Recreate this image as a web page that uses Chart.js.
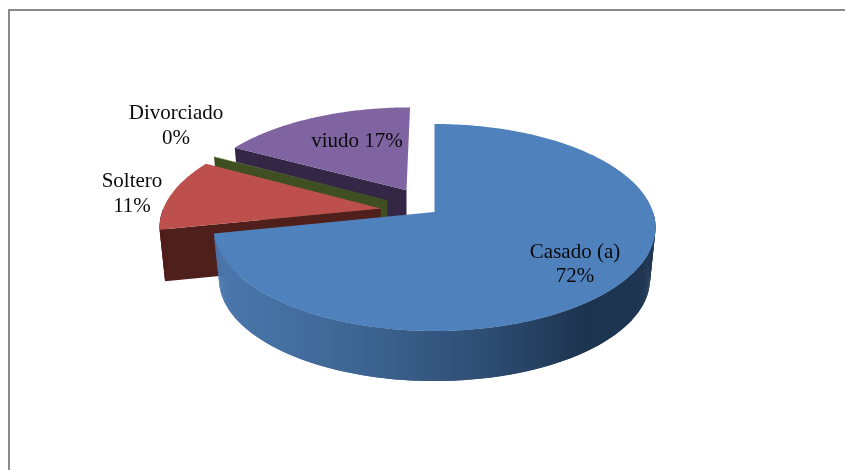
<!DOCTYPE html>
<html>
<head>
<meta charset="utf-8">
<title>Estado civil</title>
<script src="https://cdn.jsdelivr.net/npm/chart.js@4"></script>
<style>
    html, body { margin: 0; padding: 0; background: #fff; overflow: hidden; }
    #moldura { position: absolute; left: 8px; top: 9px; width: 837px; height: 461px; border-left: 2px solid #8a8a8a; border-top: 2px solid #8a8a8a; }
    #graficoPizza { position: absolute; left: 0; top: 0; }
</style>
</head>
<body>
<div id="moldura"></div>
<canvas id="graficoPizza" width="845" height="470"></canvas>
<script>
// Dados
const categorias = ['Casado (a)', 'Soltero', 'Divorciado', 'viudo'];
const valores = [71.7, 11.2, 0.05, 17.05];
const percentuais = ['72%', '11%', '0%', '17%'];

// Estilo das fatias
const coresTopo = ['#4f81bd', '#bd504c', '#9bbb59', '#8064a2'];
const coresLateral = ['#1d3450', '#4f1f1c', '#3f4f22', '#332745'];
const explosao = [0, 52, 52, 54];

// Posição dos rótulos (cada item é uma linha de texto)
const rotulos = [
    { linhas: [categorias[0], percentuais[0]], x: 575, y: 252 },
    { linhas: [categorias[1], percentuais[1]], x: 132, y: 181.5 },
    { linhas: [categorias[2], percentuais[2]], x: 176, y: 113.5 },
    { linhas: [categorias[3] + ' ' + percentuais[3]], x: 357, y: 141.5 }
];

// Projeção em perspectiva do disco
const CENTRO_X = 434.5, CENTRO_Y = 212;
const RAIO_X = 218.5, RAIO_Y = 101.2, FUGA = 0.15;
const ALTURA = 52, ALTURA_FRENTE = 2, ENCOLHE = 0.025;

// (du, dv) é o deslocamento da fatia, (u, v) o ponto no disco
function projetar(du, dv, u, v, z) {
    var vt = dv + v;
    var w = 1 - FUGA * vt;
    return {
        x: CENTRO_X + RAIO_X * (du + u * (1 - ENCOLHE * z)) / w,
        y: CENTRO_Y + RAIO_Y * vt / w + (ALTURA - ALTURA_FRENTE * vt) * z
    };
}

function poligono(ctx, pontos, cor) {
    ctx.beginPath();
    pontos.forEach((p, i) => i ? ctx.lineTo(p.x, p.y) : ctx.moveTo(p.x, p.y));
    ctx.closePath();
    ctx.fillStyle = cor;
    ctx.fill();
}

function desenharFatia(ctx, arco, i) {
    var meio = (arco.startAngle + arco.endAngle) / 2;
    var desloc = arco.options.offset / arco.outerRadius;
    var du = Math.cos(meio) * desloc, dv = Math.sin(meio) * desloc;

    var passos = Math.max(2, Math.ceil((arco.endAngle - arco.startAngle) * 90));
    var topo = [], curvaTopo = [], curvaFundo = [];
    for (var p = 0; p <= passos; p++) {
        var a = arco.startAngle + (arco.endAngle - arco.startAngle) * p / passos;
        var u = Math.cos(a), v = Math.sin(a);
        topo.push(projetar(du, dv, u, v, 0));
        // a lateral curva só aparece na metade da frente
        if (v >= 0) {
            curvaTopo.push(projetar(du, dv, u, v, 0));
            curvaFundo.push(projetar(du, dv, u, v, 1));
        }
    }
    var apice = projetar(du, dv, 0, 0, 0), apiceFundo = projetar(du, dv, 0, 0, 1);
    var inicio = projetar(du, dv, Math.cos(arco.startAngle), Math.sin(arco.startAngle), 1);

    var corLateral = coresLateral[i];
    if (i == 0) {
        // só a fatia maior tem degradê na lateral curva
        var grad = ctx.createLinearGradient(CENTRO_X - 217, 0, CENTRO_X + 215, 0);
        grad.addColorStop(0, '#4a77ad');
        grad.addColorStop(0.3, '#3f6795');
        grad.addColorStop(0.6, '#2f4f75');
        grad.addColorStop(0.85, '#1d3450');
        grad.addColorStop(1, '#1f3652');
        corLateral = grad;
    }

    // face reta abaixo da borda inicial da fatia
    poligono(ctx, [apice, topo[0], inicio, apiceFundo], corLateral);
    // faixas sobrepostas para não deixar emendas na lateral curva
    for (var q = 0; q < curvaTopo.length - 1; q++) {
        var prox = Math.min(q + 2, curvaTopo.length - 1);
        poligono(ctx, [curvaTopo[q], curvaTopo[prox], curvaFundo[prox], curvaFundo[q]], corLateral);
    }
    poligono(ctx, [apice].concat(topo), coresTopo[i]);
}

// O Chart.js calcula os ângulos; aqui só desenhamos em 3D
const pizza3d = {
    id: 'pizza3d',
    beforeDatasetsDraw(chart) {
        var ctx = chart.ctx;
        var arcos = chart.getDatasetMeta(0).data;
        ctx.save();
        for (var i = arcos.length - 1; i >= 0; i--) {
            desenharFatia(ctx, arcos[i], i);
        }
        ctx.fillStyle = '#0a0a0a';
        ctx.font = '21px "Liberation Serif"';
        ctx.textAlign = 'center';
        ctx.textBaseline = 'middle';
        rotulos.forEach(r => {
            r.linhas.forEach((texto, n) => ctx.fillText(texto, r.x, r.y + n * 24.5));
        });
        ctx.restore();
        return false;
    }
};

const ctxPizza = document.getElementById('graficoPizza').getContext('2d');
const graficoPizza = new Chart(ctxPizza, {
    type: 'pie',
    data: {
        labels: categorias,
        datasets: [{
            data: valores,
            backgroundColor: coresTopo,
            borderWidth: 0,
            offset: explosao
        }]
    },
    options: {
        responsive: false,
        animation: false,
        layout: { padding: 0 },
        plugins: {
            legend: { display: false },
            tooltip: { enabled: false }
        }
    },
    plugins: [pizza3d]
});
</script>
</body>
</html>
